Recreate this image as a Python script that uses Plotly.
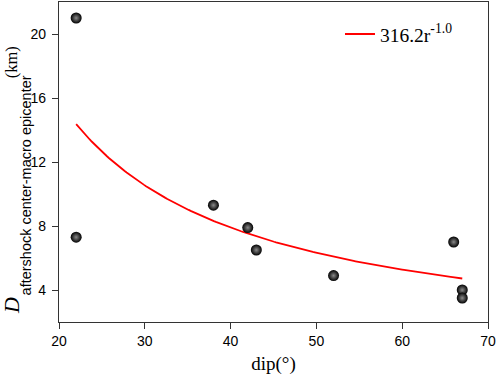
import numpy as np
import plotly.graph_objects as go

dip = [22, 22, 38, 42, 43, 52, 66, 67, 67]
distance = [21.0, 7.3, 9.3, 7.9, 6.5, 4.9, 7.0, 4.0, 3.5]

fit_coef = 316.2
fit_exp = -1.0
fit_x = np.linspace(22, 67, 200)
fit_y = fit_coef * fit_x ** fit_exp

x_ticks = [20, 30, 40, 50, 60, 70]
y_ticks = [4, 8, 12, 16, 20]

fig = go.Figure()
fig.add_trace(go.Scatter(
    x=fit_x, y=fit_y, mode="lines",
    line=dict(color="red", width=1.8),
    name="316.2r<sup>-1.0</sup>",
    showlegend=True,
))
fig.add_trace(go.Scatter(
    x=dip, y=distance, mode="markers",
    marker=dict(size=11, color="black",
                gradient=dict(type="radial", color="#8a8a8a"),
                line=dict(width=0)),
    showlegend=False,
))

axis_common = dict(
    showline=True, linecolor="#333", linewidth=1.2, mirror=True,
    ticks="outside", ticklen=6, tickcolor="#333", tickwidth=1.2,
    showgrid=False, zeroline=False, automargin=False,
    tickfont=dict(family="Liberation Sans, Arial", size=14, color="black"),
)

serif = "Liberation Serif, Times New Roman"
sans = "Liberation Sans, Arial"

# y-axis title pieces (Origin-style large italic D with a deep subscript)
ann = [
    dict(text="<i>D</i>", x=-0.112, y=0.053, font=dict(family=serif, size=22, color="black")),
    dict(text="aftershock center-macro epicenter", x=-0.076, y=0.428, font=dict(family=sans, size=14.5, color="black")),
    dict(text="(km)", x=-0.110, y=0.811, font=dict(family=serif, size=16.5, color="black")),
]
for a in ann:
    fig.add_annotation(xref="paper", yref="paper", textangle=-90, showarrow=False,
                       xanchor="center", yanchor="middle", **a)

fig.update_layout(
    width=498, height=380,
    margin=dict(l=59, r=10, t=2, b=58),
    plot_bgcolor="white", paper_bgcolor="white",
    xaxis=dict(range=[20, 70], tickvals=x_ticks, **axis_common,
               title=dict(text="dip(°)", font=dict(family=serif, size=19, color="black"), standoff=8)),
    yaxis=dict(range=[2, 22], tickvals=y_ticks, ticklabelstandoff=3, **axis_common),
    legend=dict(x=0.655, y=0.96, xanchor="left", yanchor="top",
                bgcolor="rgba(0,0,0,0)",
                font=dict(family=serif, size=19.5, color="black")),
)

fig.write_html("out.html", config={"displayModeBar": False},
               post_script="document.body.style.margin='0';document.body.style.padding='0';")
